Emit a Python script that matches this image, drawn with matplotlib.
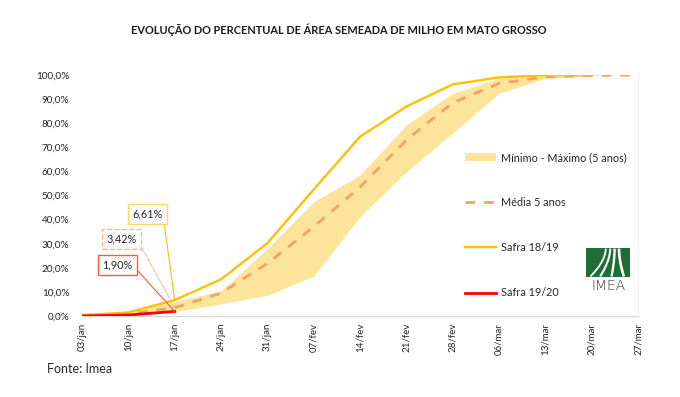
import matplotlib
matplotlib.use("Agg")
import matplotlib.pyplot as plt
from matplotlib.patches import Patch, Rectangle
from matplotlib.lines import Line2D
from matplotlib.ticker import FuncFormatter
import numpy as np

plt.rcParams['font.family'] = ['Lato', 'DejaVu Sans']

# ---------------- data ----------------
dates = ['03/jan', '10/jan', '17/jan', '24/jan', '31/jan', '07/fev', '14/fev',
         '21/fev', '28/fev', '06/mar', '13/mar', '20/mar', '27/mar']
max5 = [0.5, 1.8, 6.0, 10.5, 28.0, 47.4, 58.5, 79.3, 92.4, 98.6, 99.8, 100.0, 100.0]
min5 = [0.1, 0.3, 1.8, 5.0, 8.6, 16.6, 41.2, 59.8, 76.0, 92.4, 98.6, 99.8, 100.0]
media5 = [0.3, 0.9, 3.42, 9.5, 21.8, 37.0, 53.5, 73.0, 88.5, 96.5, 99.2, 99.8, 100.0]
safra1819 = [0.3, 1.5, 6.61, 15.2, 30.2, 52.5, 74.4, 86.9, 96.1, 99.0, 99.9, 100.0]
safra1920 = [0.0, 0.4, 1.90]

title = 'EVOLUÇÃO DO PERCENTUAL DE ÁREA SEMEADA DE MILHO EM MATO GROSSO'
yticks = [0, 10, 20, 30, 40, 50, 60, 70, 80, 90, 100]

# ---------------- colours ----------------
c_band = '#FCE49B'
c_media = '#F4A166'
c_1819 = '#FFC000'
c_1920 = '#FF0000'

W, H = 680, 397
fig = plt.figure(figsize=(W / 100, H / 100), dpi=100)
ax = fig.add_axes([82 / W, 1 - 316 / H, (638 - 82) / W, (316 - 75) / H])

x = np.arange(len(dates))
ax.fill_between(x, min5, max5, color=c_band, lw=0, zorder=1)
ax.plot(x, media5, color=c_media, lw=2.0, dashes=(3.5, 3.2), zorder=3)
ax.plot(np.arange(len(safra1819)), safra1819, color=c_1819, lw=1.7, zorder=4)
ax.plot(np.arange(len(safra1920)), safra1920, color=c_1920, lw=2.0, zorder=5)

ax.set_xlim(0, len(dates) - 1)
ax.set_ylim(0, 100)
ax.set_yticks(yticks)
ax.yaxis.set_major_formatter(FuncFormatter(lambda v, p: f'{v:.1f}%'.replace('.', ',')))
ax.set_xticks(x)
ax.set_xticklabels(dates, rotation=90, fontsize=7.0, color='#262626')
ax.tick_params(axis='y', length=0, pad=9, labelsize=7.2, labelcolor='#262626')
ax.tick_params(axis='x', length=0, pad=5)
for s in ['top', 'left']:
    ax.spines[s].set_visible(False)
ax.spines['bottom'].set_color('#D9D9D9')
ax.spines['bottom'].set_linewidth(1.0)
ax.spines['right'].set_color('#F2F2F2')
ax.spines['right'].set_linewidth(0.8)

# ---------------- callouts ----------------
def callout(txt, xi, yv, tx, ty, ec, lc, ls):
    ax.annotate(txt, xy=(xi, yv), xytext=(tx, ty), textcoords='data',
                fontsize=7.8, color='#262626', ha='center', va='center', zorder=6,
                bbox=dict(boxstyle='square,pad=0.4', fc='white', ec=ec, lw=1.0, ls=ls),
                arrowprops=dict(arrowstyle='-', color=lc, lw=0.8, ls=ls,
                                relpos=(1.0, 0.5), shrinkA=0, shrinkB=0))

callout('6,61%', 2, safra1819[2], 1.42, 42.3, '#FFD966', '#FFC000', '-')
callout('3,42%', 2, media5[2], 0.86, 32.0, '#F6B98F', '#F6B98F', '--')
callout('1,90%', 2, safra1920[2], 0.76, 21.2, '#FF5A3C', '#FF5A3C', '-')

# ---------------- legend ----------------
handles = [Patch(facecolor=c_band, edgecolor='none'),
           Line2D([], [], color=c_media, lw=2.0, dashes=(3.5, 3.2)),
           Line2D([], [], color=c_1819, lw=1.7),
           Line2D([], [], color=c_1920, lw=2.0)]
labels = ['Mínimo - Máximo (5 anos)', 'Média 5 anos', 'Safra 18/19', 'Safra 19/20']
fig.legend(handles, labels, loc='upper left', bbox_to_anchor=(465 / W, 1 - 152 / H),
           frameon=False, fontsize=7.8, labelspacing=3.15, handlelength=2.9,
           handletextpad=0.4, borderpad=0, borderaxespad=0, labelcolor='#262626')

# ---------------- logo ----------------
lax = fig.add_axes([586 / W, 1 - 277 / H, 44 / W, 29 / H])
lax.set_xlim(0, 1)
lax.set_ylim(0, 1)
lax.axis('off')
lax.add_patch(Rectangle((0, 0), 1, 1, fc='#1F6E35', ec='none'))
t = np.linspace(0, 1, 60)
for xb, xt, lw in [(0.10, 0.45, 1.3), (0.32, 0.55, 1.5), (0.58, 0.65, 1.7), (0.86, 0.75, 1.9)]:
    xs = xt + (xb - xt) * t ** 1.8
    lax.plot(xs, 0.98 - 0.96 * t, color='white', lw=lw, solid_capstyle='butt')
fig.text(608 / W, 1 - 286 / H, 'IMEA', ha='center', va='center',
         fontsize=10, color='#333333', family=['DejaVu Sans'], fontweight='light')

# ---------------- texts ----------------
fig.text(339 / W, 1 - 30 / H, title, ha='center', va='center', fontsize=7.9,
         fontweight='bold', color='#1A1A1A')
fig.text(47 / W, 1 - 369 / H, 'Fonte: Imea', ha='left', va='center', fontsize=9,
         color='#262626')

fig.savefig('out.png', dpi=100)
